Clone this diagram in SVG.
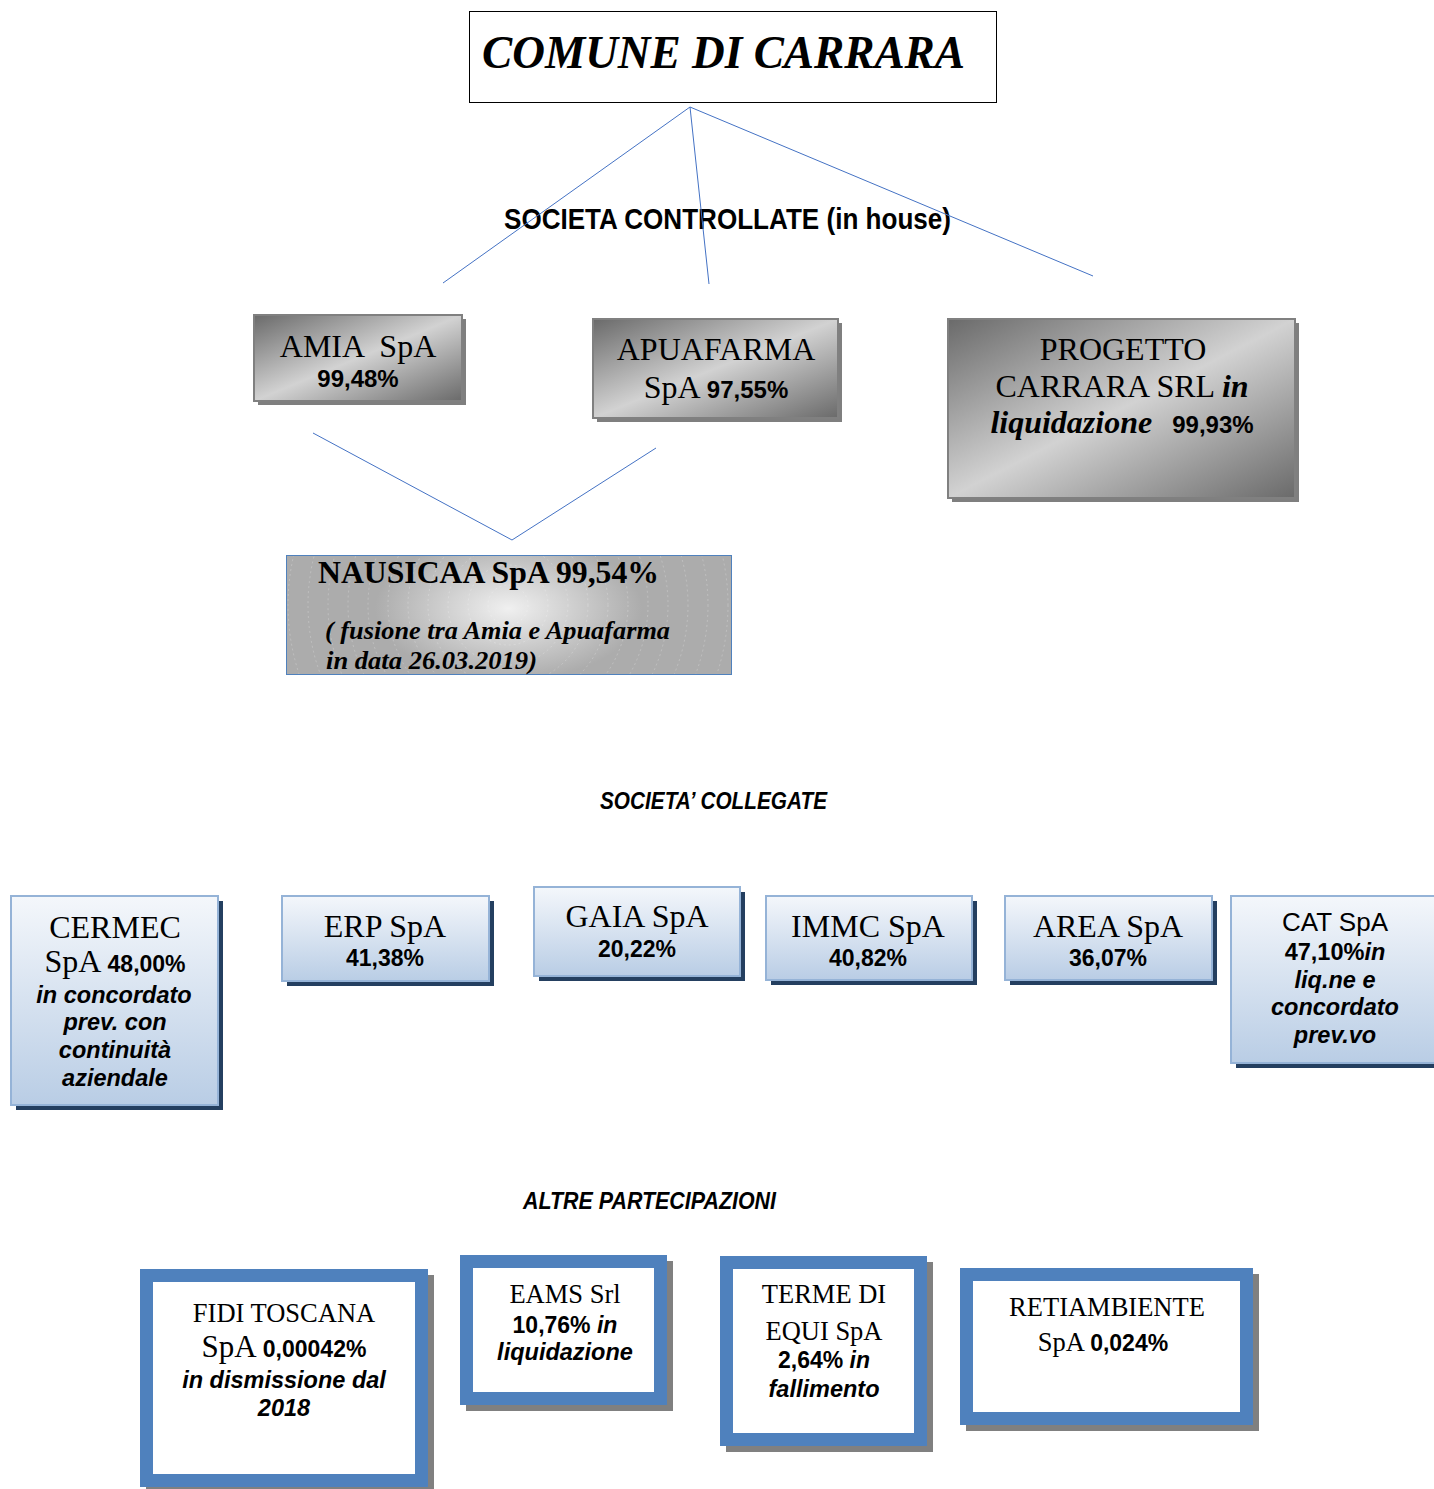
<svg xmlns="http://www.w3.org/2000/svg" width="1434" height="1489" viewBox="0 0 1434 1489">
<defs>
<linearGradient id="metal" x1="0" y1="0" x2="1" y2="1">
<stop offset="0" stop-color="#6a6a6a"/>
<stop offset="0.5" stop-color="#d2d2d2"/>
<stop offset="1" stop-color="#6a6a6a"/>
</linearGradient>
<radialGradient id="rad" cx="0.5" cy="0.45" r="0.6" gradientTransform="translate(0.5 0.45) scale(0.5 1) translate(-0.5 -0.45)">
<stop offset="0" stop-color="#f0f0f0"/>
<stop offset="1" stop-color="#acacac"/>
</radialGradient>
<linearGradient id="blue" x1="0" y1="0" x2="0" y2="1">
<stop offset="0" stop-color="#f4f7fb"/>
<stop offset="1" stop-color="#b9cde5"/>
</linearGradient>
<clipPath id="nclip"><rect x="286" y="555" width="445" height="119"/></clipPath>
</defs>
<style>
.serif{font-family:"Liberation Serif","Times New Roman",serif;fill:#000}
.sans{font-family:"Liberation Sans",Arial,sans-serif;fill:#000}
.b{font-weight:bold}
.i{font-style:italic}
.cond{font-family:"Liberation Sans",Arial,sans-serif;font-weight:bold;fill:#000}
.conn{stroke:#4472c4;stroke-width:1;fill:none}
.gshadow{fill:#7f7f7f}
.gbox{fill:url(#metal);stroke:#808080;stroke-width:2}
.bshadow{fill:#243f60}
.bbox{fill:url(#blue);stroke:#95b3d7;stroke-width:2}
.ashadow{fill:#808080}
.abox{fill:#fff;stroke:#4f81bd;stroke-width:13}
</style>
<rect width="1434" height="1489" fill="#fff"/>

<g id="comune">
<rect x="469.5" y="11.5" width="527" height="91" fill="#fff" stroke="#000" stroke-width="1"/>
<text class="serif b i" x="482" y="68" font-size="46" textLength="483" lengthAdjust="spacingAndGlyphs">COMUNE DI CARRARA</text>
</g>

<g id="heading-controllate">
<text class="cond" x="504" y="229" font-size="30" textLength="447" lengthAdjust="spacingAndGlyphs">SOCIETA CONTROLLATE (in house)</text>
</g>

<g id="connectors">
<line class="conn" x1="690" y1="107" x2="443" y2="283"/>
<line class="conn" x1="690" y1="107" x2="709" y2="284"/>
<line class="conn" x1="690" y1="107" x2="1093" y2="276"/>
<polyline class="conn" points="313,433 512,540 656,448"/>
</g>

<g id="amia">
<rect class="gshadow" x="258" y="319" width="208" height="86"/>
<rect class="gbox" x="254" y="315" width="208" height="86"/>
<text class="serif" x="358" y="357" font-size="32" text-anchor="middle" xml:space="preserve">AMIA  SpA</text>
<text class="sans b" x="358" y="387" font-size="24" text-anchor="middle">99,48%</text>
</g>

<g id="apuafarma">
<rect class="gshadow" x="597" y="323" width="245" height="99"/>
<rect class="gbox" x="593" y="319" width="245" height="99"/>
<text class="serif" x="716" y="360" font-size="32" text-anchor="middle">APUAFARMA</text>
<text x="716" y="398" text-anchor="middle"><tspan class="serif" font-size="32">SpA </tspan><tspan class="sans b" font-size="24">97,55%</tspan></text>
</g>

<g id="progetto">
<rect class="gshadow" x="952" y="323" width="347" height="179"/>
<rect class="gbox" x="948" y="319" width="347" height="179"/>
<text class="serif" x="1123" y="360" font-size="32" text-anchor="middle">PROGETTO</text>
<text x="1122" y="397" text-anchor="middle"><tspan class="serif" font-size="32">CARRARA SRL </tspan><tspan class="serif b i" font-size="32">in</tspan></text>
<text x="1122" y="433" text-anchor="middle" xml:space="preserve"><tspan class="serif b i" font-size="32">liquidazione</tspan><tspan class="sans b" font-size="24">   99,93%</tspan></text>
</g>

<g id="nausicaa">
<rect x="286" y="555" width="445" height="119" fill="url(#rad)"/>
<g clip-path="url(#nclip)" fill="none" stroke="#ffffff" stroke-opacity="0.22" stroke-width="1" stroke-dasharray="2 3">
<circle cx="508" cy="605" r="20"/>
<circle cx="508" cy="605" r="40"/>
<circle cx="508" cy="605" r="60"/>
<circle cx="508" cy="605" r="80"/>
<circle cx="508" cy="605" r="100"/>
<circle cx="508" cy="605" r="120"/>
<circle cx="508" cy="605" r="140"/>
<circle cx="508" cy="605" r="160"/>
<circle cx="508" cy="605" r="180"/>
<circle cx="508" cy="605" r="200"/>
<circle cx="508" cy="605" r="220"/>
<circle cx="508" cy="605" r="240"/>
</g>
<rect x="286.5" y="555.5" width="445" height="119" fill="none" stroke="#4f81bd" stroke-width="1"/>
<text class="serif b" x="318" y="583" font-size="31" textLength="341" lengthAdjust="spacingAndGlyphs">NAUSICAA SpA 99,54%</text>
<text class="serif b i" x="325" y="639" font-size="26" textLength="345" lengthAdjust="spacingAndGlyphs">( fusione tra Amia e Apuafarma</text>
<text class="serif b i" x="326" y="669" font-size="26" textLength="211" lengthAdjust="spacingAndGlyphs">in data 26.03.2019)</text>
</g>

<g id="heading-collegate">
<text class="cond i" x="600" y="809" font-size="24" textLength="227" lengthAdjust="spacingAndGlyphs">SOCIETA’ COLLEGATE</text>
</g>

<g id="cermec">
<rect class="bshadow" x="16" y="901" width="207" height="209"/>
<rect class="bbox" x="11" y="896" width="207" height="209"/>
<text class="serif" x="115" y="938" font-size="32" text-anchor="middle">CERMEC</text>
<text x="115" y="972" text-anchor="middle"><tspan class="serif" font-size="32">SpA </tspan><tspan class="sans b" font-size="23">48,00%</tspan></text>
<text class="sans b i" x="114" y="1003" font-size="23.5" text-anchor="middle">in concordato</text>
<text class="sans b i" x="115" y="1030" font-size="23.5" text-anchor="middle">prev. con</text>
<text class="sans b i" x="115" y="1058" font-size="23.5" text-anchor="middle">continuità</text>
<text class="sans b i" x="115" y="1086" font-size="23.5" text-anchor="middle">aziendale</text>
</g>

<g id="erp">
<rect class="bshadow" x="287" y="901" width="207" height="85"/>
<rect class="bbox" x="282" y="896" width="207" height="85"/>
<text class="serif" x="385" y="937" font-size="32" text-anchor="middle">ERP SpA</text>
<text class="sans b" x="385" y="966" font-size="23" text-anchor="middle">41,38%</text>
</g>

<g id="gaia">
<rect class="bshadow" x="539" y="892" width="206" height="89"/>
<rect class="bbox" x="534" y="887" width="206" height="89"/>
<text class="serif" x="637" y="927" font-size="32" text-anchor="middle">GAIA SpA</text>
<text class="sans b" x="637" y="957" font-size="23" text-anchor="middle">20,22%</text>
</g>

<g id="immc">
<rect class="bshadow" x="771" y="901" width="206" height="84"/>
<rect class="bbox" x="766" y="896" width="206" height="84"/>
<text class="serif" x="868" y="937" font-size="32" text-anchor="middle">IMMC SpA</text>
<text class="sans b" x="868" y="966" font-size="23" text-anchor="middle">40,82%</text>
</g>

<g id="area">
<rect class="bshadow" x="1010" y="901" width="207" height="84"/>
<rect class="bbox" x="1005" y="896" width="207" height="84"/>
<text class="serif" x="1108" y="937" font-size="32" text-anchor="middle">AREA SpA</text>
<text class="sans b" x="1108" y="966" font-size="23" text-anchor="middle">36,07%</text>
</g>

<g id="cat">
<rect class="bshadow" x="1236" y="901" width="210" height="167"/>
<rect class="bbox" x="1231" y="896" width="210" height="167"/>
<text class="sans" x="1335" y="931" font-size="26" text-anchor="middle">CAT SpA</text>
<text x="1335" y="960" text-anchor="middle"><tspan class="sans b" font-size="23.5">47,10%</tspan><tspan class="sans b i" font-size="23.5">in</tspan></text>
<text class="sans b i" x="1335" y="988" font-size="23.5" text-anchor="middle">liq.ne e</text>
<text class="sans b i" x="1335" y="1015" font-size="23.5" text-anchor="middle">concordato</text>
<text class="sans b i" x="1335" y="1043" font-size="23.5" text-anchor="middle">prev.vo</text>
</g>

<g id="heading-altre">
<text class="cond i" x="523" y="1209" font-size="24" textLength="253" lengthAdjust="spacingAndGlyphs">ALTRE PARTECIPAZIONI</text>
</g>

<g id="fidi">
<rect class="ashadow" x="146" y="1275" width="288" height="218"/>
<rect class="abox" x="146.5" y="1275.5" width="275" height="205"/>
<text class="serif" x="284" y="1322" font-size="26.5" text-anchor="middle">FIDI TOSCANA</text>
<text x="284" y="1357" text-anchor="middle"><tspan class="serif" font-size="31">SpA </tspan><tspan class="sans b" font-size="23">0,00042%</tspan></text>
<text class="sans b i" x="284" y="1388" font-size="23.5" text-anchor="middle">in dismissione dal</text>
<text class="sans b i" x="284" y="1416" font-size="23.5" text-anchor="middle">2018</text>
</g>

<g id="eams">
<rect class="ashadow" x="466" y="1261" width="207" height="150"/>
<rect class="abox" x="466.5" y="1261.5" width="194" height="137"/>
<text class="serif" x="565" y="1303" font-size="26.5" text-anchor="middle">EAMS Srl</text>
<text x="565" y="1333" text-anchor="middle"><tspan class="sans b" font-size="23">10,76% </tspan><tspan class="sans b i" font-size="23">in</tspan></text>
<text class="sans b i" x="565" y="1360" font-size="23.5" text-anchor="middle">liquidazione</text>
</g>

<g id="terme">
<rect class="ashadow" x="726" y="1262" width="207" height="190"/>
<rect class="abox" x="726.5" y="1262.5" width="194" height="177"/>
<text class="serif" x="824" y="1303" font-size="26.5" text-anchor="middle">TERME DI</text>
<text class="serif" x="824" y="1340" font-size="26.5" text-anchor="middle">EQUI SpA</text>
<text x="824" y="1368" text-anchor="middle"><tspan class="sans b" font-size="23">2,64% </tspan><tspan class="sans b i" font-size="23">in</tspan></text>
<text class="sans b i" x="824" y="1397" font-size="23.5" text-anchor="middle">fallimento</text>
</g>

<g id="retiambiente">
<rect class="ashadow" x="966" y="1274" width="293" height="157"/>
<rect class="abox" x="966.5" y="1274.5" width="280" height="144"/>
<text class="serif" x="1107" y="1316" font-size="26.5" text-anchor="middle">RETIAMBIENTE</text>
<text x="1103" y="1351" text-anchor="middle"><tspan class="serif" font-size="26.5">SpA </tspan><tspan class="sans b" font-size="23">0,024%</tspan></text>
</g>
</svg>
